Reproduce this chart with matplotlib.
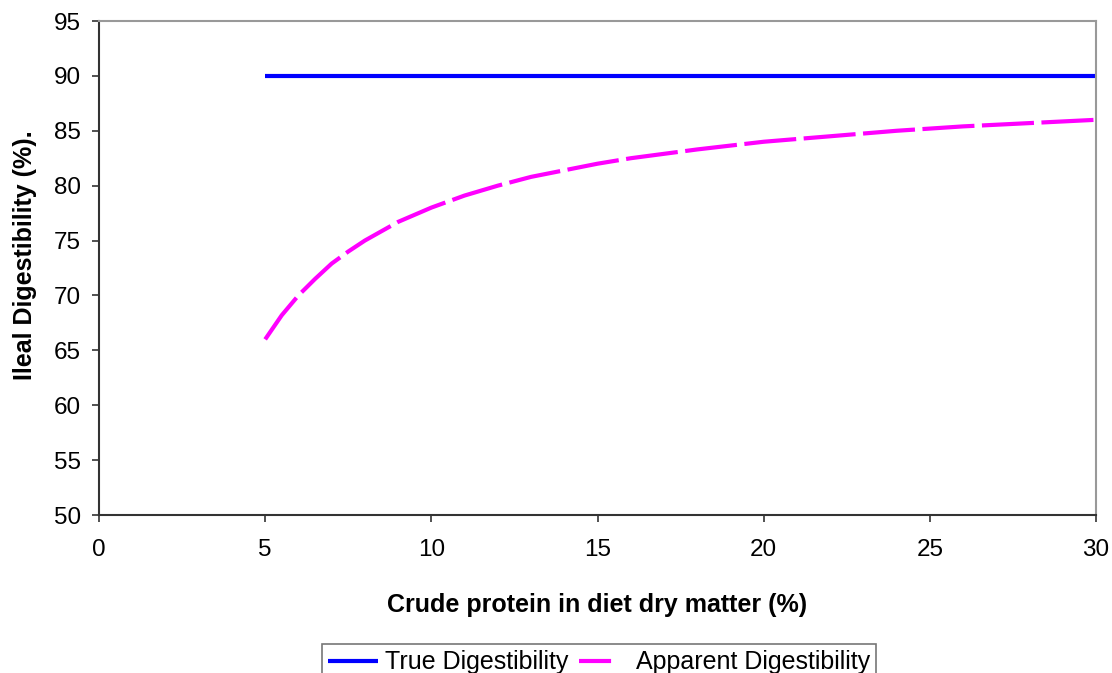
import matplotlib
matplotlib.use("Agg")
import matplotlib.pyplot as plt

plt.rcParams['font.family'] = ['Liberation Sans', 'DejaVu Sans']

# Crude protein levels (% of diet dry matter)
crude_protein = [5, 5.5, 6, 6.5, 7, 7.5, 8, 9, 10, 11, 12, 13, 14, 15, 16, 18,
                 20, 22, 24, 26, 28, 30]
# Ileal digestibility (%)
true_digestibility = [90] * len(crude_protein)
apparent_digestibility = [66, 68.2, 70, 71.5, 72.9, 74, 75, 76.7, 78, 79.1, 80,
                          80.8, 81.4, 82, 82.5, 83.3, 84, 84.5, 85, 85.4, 85.7, 86]

x_ticks = [0, 5, 10, 15, 20, 25, 30]
y_ticks = [50, 55, 60, 65, 70, 75, 80, 85, 90, 95]

FS_TICK = 17.5
FS_LABEL = 18

fig = plt.figure(figsize=(11.12, 6.73), dpi=100)
ax = fig.add_axes([99 / 1112, 1 - 515 / 673, (1096 - 99) / 1112, (515 - 21) / 673])

ax.plot(crude_protein, true_digestibility, color='#0000FF', lw=3.0,
        solid_capstyle='butt', label='True Digestibility')
ax.plot(crude_protein, apparent_digestibility, color='#FF00FF', lw=3.0,
        dashes=(12.5, 1.8), label='Apparent Digestibility')

ax.set_xlim(0, 30)
ax.set_ylim(50, 95)
ax.set_xticks(x_ticks)
ax.set_yticks(y_ticks)
ax.tick_params(axis='both', labelsize=FS_TICK, direction='out', length=5,
               width=1.2, color='#333333')
ax.tick_params(axis='y', pad=8)
ax.tick_params(axis='x', pad=12)

for side in ('top', 'right'):
    ax.spines[side].set_color('#999999')
    ax.spines[side].set_linewidth(1.5)
for side in ('left', 'bottom'):
    ax.spines[side].set_color('#333333')
    ax.spines[side].set_linewidth(1.5)

ax.set_xlabel('Crude protein in diet dry matter (%)', fontsize=FS_LABEL,
              fontweight='bold', labelpad=23)
ax.set_ylabel('Ileal Digestibility (%).', fontsize=FS_LABEL, fontweight='bold')
ax.yaxis.set_label_coords(-0.062, 0.526)

leg = fig.legend(loc='upper center', bbox_to_anchor=(599 / 1112, 1 - 644 / 673),
                 ncol=2, fontsize=FS_LABEL, frameon=True, fancybox=False,
                 edgecolor='#555555', handlelength=2.0, handletextpad=0.25,
                 columnspacing=0.45, borderpad=0.25, borderaxespad=0)
leg.get_frame().set_linewidth(1.2)
leg.get_lines()[1].set_dashes((7.7, 6))

fig.savefig('out.png', dpi=100)
